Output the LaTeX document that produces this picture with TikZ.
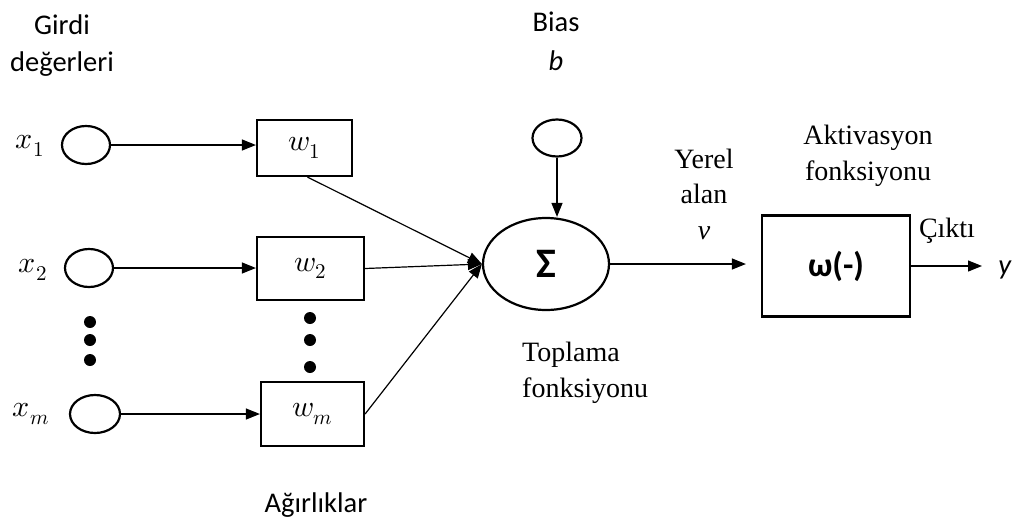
\documentclass[tikz,border=0pt]{standalone}
\usepackage{fontspec}
\usepackage{unicode-math}
\setmainfont{Liberation Serif}
\setmathfont{Latin Modern Math}
\newfontfamily\calib{Carlito}
\usetikzlibrary{arrows.meta,shapes.geometric}

\begin{document}
\begin{tikzpicture}[x=1pt,y=-1pt,
  sanslbl/.style={font=\calib\fontsize{28.5}{37}\selectfont,inner sep=0pt},
  seriflbl/.style={font=\fontsize{28}{35.5}\selectfont,inner sep=0pt},
  mathlbl/.style={font=\fontsize{30}{34}\selectfont,inner sep=0pt},
  inp/.style={draw,ellipse,line width=2.2pt,inner sep=0pt},
  wbox/.style={draw,line width=2.2pt,inner sep=0pt,font=\fontsize{30}{34}\selectfont},
  conn/.style={line width=1.2pt,-{Triangle[length=14pt,width=11pt]}},
  dotnode/.style={circle,fill,inner sep=0pt,minimum size=12pt},
]
\useasboundingbox (0,0) rectangle (1018,523);

% input values
\node[sanslbl,align=center] (girdi) at (62,46) {Girdi\\değerleri};
\node[mathlbl] (lx1) at (30,146) {$x_1$};
\node[mathlbl] (lx2) at (33,270) {$x_2$};
\node[mathlbl] (lxm) at (31,414) {$x_m$};
\node[inp,minimum width=48pt,minimum height=38pt] (x1) at (86,145) {};
\node[inp,minimum width=48pt,minimum height=38pt] (x2) at (89,268) {};
\node[inp,minimum width=50pt,minimum height=38pt] (xm) at (95,414) {};
\node[dotnode] (ld1) at (90,322) {};
\node[dotnode] (ld2) at (90,340) {};
\node[dotnode] (ld3) at (90,360) {};

% weights
\node[wbox,minimum width=95pt,minimum height=56pt] (w1) at (304.5,148) {$w_1$};
\node[wbox,minimum width=107pt,minimum height=63pt] (w2) at (310.5,268.5) {$w_2$};
\node[wbox,minimum width=103pt,minimum height=64pt] (wm) at (312.5,414) {$w_m$};
\node[dotnode] (wd1) at (310,318) {};
\node[dotnode] (wd2) at (310,340) {};
\node[dotnode] (wd3) at (310,367) {};
\node[sanslbl] (agirlik) at (316,505) {Ağırlıklar};

% bias
\node[sanslbl] (biast) at (556,22) {Bias};
\node[sanslbl] (biasb) at (556,61) {\textit{b}};
\node[inp,minimum width=49pt,minimum height=37pt] (bias) at (557,138) {};

% summing junction
\node[draw,ellipse,line width=2.2pt,minimum width=126pt,minimum height=92pt,inner sep=0pt,
      font=\calib\bfseries\fontsize{42}{42}\selectfont] (sum) at (546,264) {Σ};
\node[seriflbl,align=left,anchor=west] (topl) at (522,373) {Toplama\\fonksiyonu};

% local field
\node[seriflbl,align=center] (yerel) at (704,194) {Yerel\\alan\\\textit{v}};

% activation
\node[draw,line width=2.2pt,minimum width=148pt,minimum height=101pt,inner sep=0pt,
      font=\calib\bfseries\fontsize{34}{34}\selectfont] (phi) at (836,266) {ω(-)};
\node[seriflbl,align=center] (aktiv) at (868,156) {Aktivasyon\\fonksiyonu};
\node[seriflbl] (cikti) at (947,231) {Çıktı};
\node[sanslbl] (yout) at (1005,270) {\textit{y}};
\coordinate (yend) at (982,266);

% connectors
\draw[conn] (x1.east) -- (x1.east -| w1.west);
\draw[conn] (x2.east) -- (x2.east -| w2.west);
\draw[conn] (xm.east) -- (xm.east -| wm.west);
\draw[conn] ([xshift=3pt]w1.south) -- (sum.west);
\draw[conn] (w2.east) -- (sum.west);
\draw[conn] (wm.east) -- (sum.west);
\draw[conn] (bias.south) -- (bias.south |- sum.north);
\draw[conn,shorten >=15pt] (sum.east) -- (sum.east -| phi.west);
\draw[conn] (phi.east |- yend) -- (yend);
\end{tikzpicture}
\end{document}
